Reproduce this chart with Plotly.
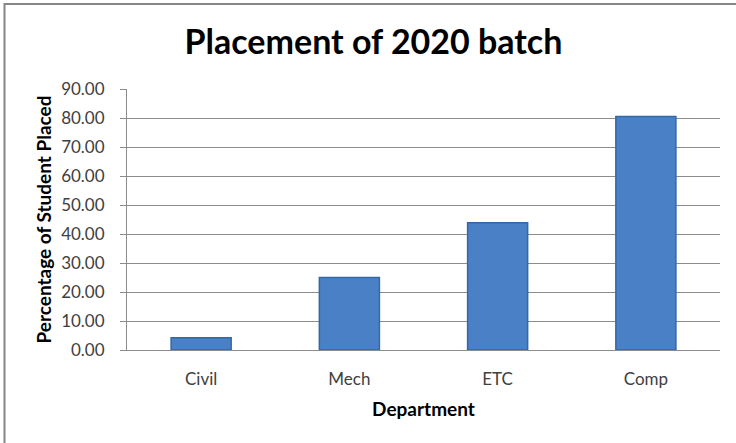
import plotly.graph_objects as go

departments = ["Civil", "Mech", "ETC", "Comp"]
placed_pct = [4.2, 25.0, 43.9, 80.5]
y_ticks = [0, 10, 20, 30, 40, 50, 60, 70, 80, 90]

FONT = "Lato"
W, H = 736, 443
L, R, T, B = 127, 16, 89, 93

fig = go.Figure()
fig.add_trace(go.Bar(
    x=departments, y=placed_pct,
    width=0.405,
    marker=dict(color="#4a80c6", line=dict(color="#3567a6", width=1.5)),
    hoverinfo="x+y",
))

fig.update_layout(
    width=W, height=H,
    margin=dict(l=L, r=R, t=T, b=B),
    paper_bgcolor="white", plot_bgcolor="white",
    showlegend=False,
    font=dict(family=FONT, color="#404040"),
    title=dict(text="<b>Placement of 2020 batch</b>", x=373.5 / W, xanchor="center",
               y=1 - 42 / H, yanchor="middle",
               font=dict(family=FONT, size=34, color="black")),
    bargap=0.6,
)
fig.update_yaxes(
    range=[0, 90], tickvals=y_ticks, tickformat=".2f",
    showgrid=True, gridcolor="#8c8c8c", gridwidth=1,
    showline=True, linecolor="#8c8c8c", linewidth=1,
    ticks="outside", ticklen=6, tickcolor="#8c8c8c",
    ticklabelstandoff=12,
    tickfont=dict(size=17, color="#404040"),
    title=dict(text="<b>Percentage of Student Placed</b>", standoff=4,
               font=dict(size=19, color="black")),
    zeroline=False, fixedrange=True,
)
fig.update_xaxes(
    showline=True, linecolor="#8c8c8c", linewidth=1,
    ticks="", ticklabelstandoff=14,
    tickfont=dict(size=17, color="#404040"),
    title=dict(text="<b>Department</b>", standoff=14, font=dict(size=19, color="black")),
    fixedrange=True,
)

# chart border (left and top edges visible; right/bottom fall outside the view)
pw = W - L - R
ph = H - T - B
fig.add_shape(type="rect", xref="paper", yref="paper", layer="above",
              x0=(4.5 - L) / pw, x1=(W + 20 - L) / pw,
              y0=1 + (T - 4) / ph, y1=-(B + 20) / ph,
              line=dict(color="#868686", width=2), fillcolor="rgba(0,0,0,0)")

fig.write_html("out.html", config={"displayModeBar": False},
               post_script="document.body.style.margin='0';")
